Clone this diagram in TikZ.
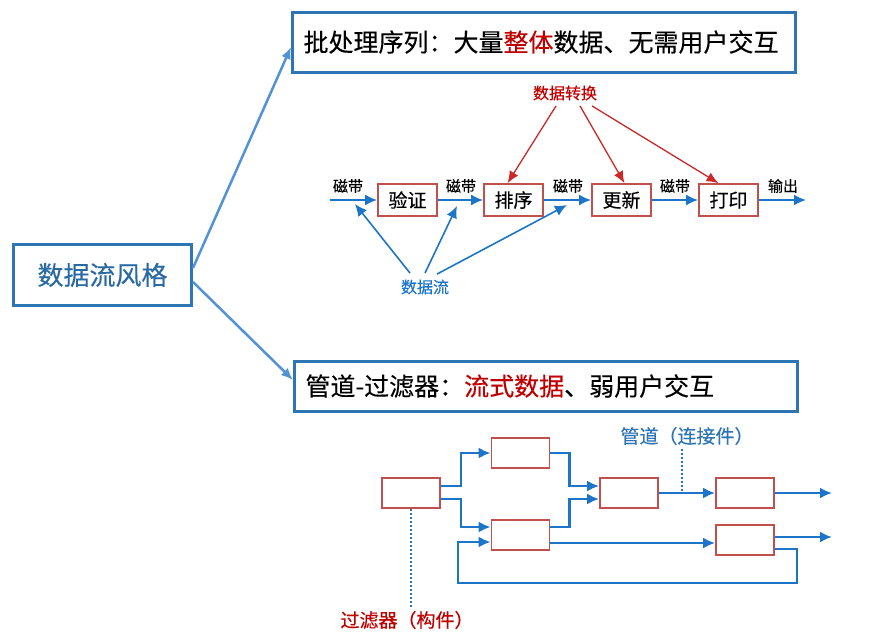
\documentclass[tikz,border=0pt]{standalone}
\usepackage{fontspec}
\setmainfont{Noto Sans CJK SC}[FakeBold=0.3]
\usetikzlibrary{arrows.meta,calc}
\newlength{\du}
\setlength{\du}{1pt}
\definecolor{boxblue}{RGB}{46,117,182}
\definecolor{linkblue}{RGB}{84,146,214}
\definecolor{flowblue}{RGB}{28,117,200}
\definecolor{boxred}{RGB}{192,80,77}
\definecolor{textred}{RGB}{192,0,0}
\definecolor{arrowred}{RGB}{204,40,40}
\tikzset{
  stylebox/.style={draw=boxblue, line width=3\du, minimum width=178\du, minimum height=61\du, inner sep=0pt, text=boxblue!90!black, font=\fontsize{26}{30}\selectfont},
  titlebox/.style={draw=boxblue, line width=3\du, inner xsep=11\du, inner ysep=0pt, text width=481\du, anchor=west, align=left, font=\fontsize{25}{30}\selectfont},
  stagebox/.style={draw=boxred, line width=1.6\du, minimum width=59\du, minimum height=32\du, inner sep=0pt, font=\fontsize{19}{22}\selectfont},
  filterbox/.style={draw=boxred, line width=1.8\du, minimum width=58\du, minimum height=30\du, inner sep=0pt},
  link/.style={draw=linkblue, line width=2.5\du, -{Latex[length=12pt,width=10pt]}},
  flow/.style={draw=flowblue, line width=2.2\du, -{Latex[length=12pt,width=11pt]}},
  change/.style={draw=arrowred, line width=1.3\du, -{Latex[length=12pt,width=10pt]}},
  pipedot/.style={draw=boxblue, line width=1.2\du, dash pattern=on 2pt off 2pt},
  tape/.style={font=\fontsize{15}{18}\selectfont},
  note/.style={font=\fontsize{16}{19}\selectfont},
  caption/.style={font=\fontsize{19}{22}\selectfont},
}

\begin{document}
\begin{tikzpicture}[x=1\du,y=-1\du]
\useasboundingbox (0,0) rectangle (883,643);
% left: the style itself
\node[stylebox] (style) at (102.5,275) {数据流风格};
\node[titlebox, minimum height=60\du] (batch) at (291,42) {批处理序列：大量\textcolor{textred}{整体}数据、无需用户交互};
\node[titlebox, minimum height=50\du] (pipe) at (293,386) {管道-过滤器：\textcolor{textred}{流式数据}、弱用户交互};
\draw[link] ($(style.east)+(0,-7)$) -- ($(batch.west)+(0,5)$);
\draw[link] ($(style.east)+(0,7)$) -- ($(pipe.west)+(0,-6)$);

% batch sequential
\node[stagebox] (verify) at (407.5,200) {验证};
\node[stagebox] (sort) at (513.5,200) {排序};
\node[stagebox] (update) at (621.5,200) {更新};
\node[stagebox] (print) at (728.5,200) {打印};
\coordinate (tapein) at (330,200);
\coordinate (tapeout) at (806,200);
\draw[flow] (tapein) -- (verify);
\draw[flow] (verify) -- (sort);
\draw[flow] (sort) -- (update);
\draw[flow] (update) -- (print);
\draw[flow] (print) -- (tapeout);
\node[tape] (tapea) at (348,186) {磁带};
\node[tape] (tapeb) at (461,186) {磁带};
\node[tape] (tapec) at (568,186) {磁带};
\node[tape] (taped) at (675,186) {磁带};
\node[tape] (output) at (783,186) {输出};
% transformations
\node[note, text=textred] (convert) at (565,93) {数据转换};
\draw[change] ($(convert.south)+(-9,2)$) -- ($(sort.north)+(-6,0)$);
\draw[change] ($(convert.south)+(15,2)$) -- ($(update.north)+(3,0)$);
\draw[change] ($(convert.south)+(27,2)$) -- ($(print.north)+(-10,0)$);
% data flows
\node[note, text=flowblue] (flowlbl) at (425,287) {数据流};
\coordinate (hita) at (355,204);
\coordinate (hitb) at (457,206);
\coordinate (hitc) at (567,205);
\draw[flow, line width=1.6\du] ($(flowlbl.north)+(-15,-3)$) -- (hita);
\draw[flow, line width=1.6\du] ($(flowlbl.north)+(0,-3)$) -- (hitb);
\draw[flow, line width=1.6\du] ($(flowlbl.north)+(12,-2)$) -- (hitc);

% pipes and filters
\node[filterbox] (fa) at (411,493) {};
\node[filterbox] (fb) at (520.5,453) {};
\node[filterbox] (fc) at (520.5,535) {};
\node[filterbox] (fd) at (629,493) {};
\node[filterbox] (fe) at (745,493) {};
\node[filterbox] (ff) at (745,540) {};
\coordinate (outa) at (832,493);
\coordinate (outb) at (832,537);
\draw[flow] ($(fa.east)+(0,-7)$) -- ++(20,0) |- (fb.west);
\draw[flow] ($(fa.east)+(0,6)$) -- ++(20,0) |- ($(fc.west)+(0,-8)$);
\draw[flow] (fb.east) -- ++(19,0) |- ($(fd.west)+(0,-7)$);
\draw[flow] ($(fc.east)+(0,-8)$) -- ++(19,0) |- ($(fd.west)+(0,6)$);
\draw[flow] (fd) -- (fe);
\draw[flow] (fe.east) -- (outa);
\draw[flow] ($(ff.east)+(0,-3)$) -- (outb);
\draw[flow] ($(fc.east)+(0,8)$) -- ($(ff.west)+(0,3)$);
\draw[flow] ($(ff.east)+(0,9)$) -| (797,583) -| (458,542) -- ($(fc.west)+(0,7)$);
% labels
\node[caption, text=boxblue] (pipelbl) at (687,436) {管道（连接件）};
\coordinate (tap) at ($(fd.east)!0.41!(fe.west)$);
\draw[pipedot] (tap |- pipelbl.south) -- (tap);
\node[caption, text=textred] (fltlbl) at (407,620) {过滤器（构件）};
\draw[pipedot] (fa.south) -- (fa.south |- fltlbl.north);
\end{tikzpicture}
\end{document}
